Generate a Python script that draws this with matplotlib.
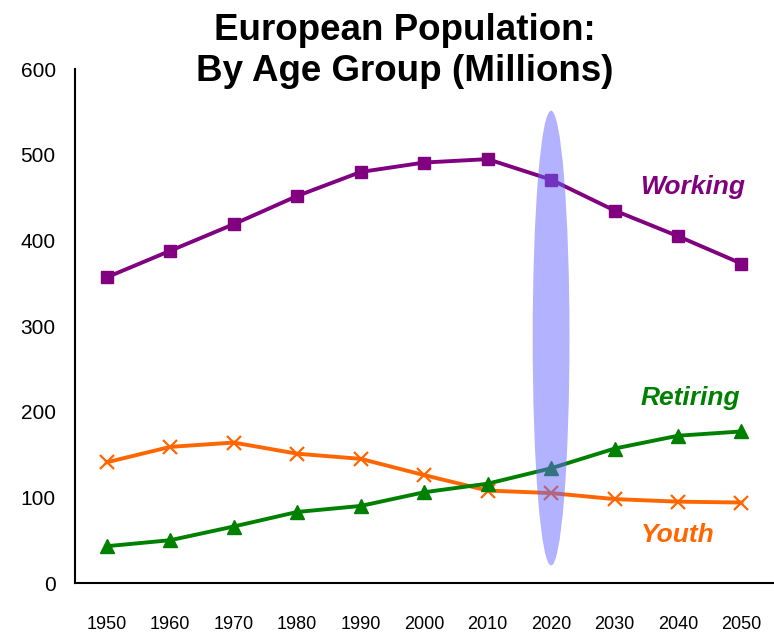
import matplotlib.pyplot as plt
from matplotlib.patches import Ellipse

plt.rcParams['font.family'] = ['Liberation Sans', 'DejaVu Sans']

years = [1950, 1960, 1970, 1980, 1990, 2000, 2010, 2020, 2030, 2040, 2050]
working = [357, 388, 419, 452, 480, 491, 495, 471, 435, 405, 373]
youth = [141, 159, 164, 151, 145, 126, 108, 105, 98, 95, 94]
retiring = [43, 50, 66, 83, 90, 106, 116, 134, 157, 172, 177]
yticks = [0, 100, 200, 300, 400, 500, 600]

fig = plt.figure(figsize=(7.74, 6.32), dpi=100)
ax = fig.add_axes([0.097, 0.0775, 0.902, 0.813])

ax.plot(years, working, color='#800080', lw=2.8, marker='s', ms=9)
ax.plot(years, youth, color='#ff6600', lw=2.8, marker='x', ms=9.5, mew=1.6)
ax.plot(years, retiring, color='#008000', lw=2.8, marker='^', ms=9.5)

# highlight around 2020
ell = Ellipse((2020, 286), width=5.8, height=531, facecolor='#6666ff', alpha=0.5, edgecolor='none', zorder=5)
ax.add_patch(ell)

ax.text(2042.3, 462, 'Working', color='#800080', fontsize=19, fontweight='bold', fontstyle='italic', ha='center', va='center')
ax.text(2042, 216, 'Retiring', color='#008000', fontsize=19, fontweight='bold', fontstyle='italic', ha='center', va='center')
ax.text(2040, 56, 'Youth', color='#ff6600', fontsize=19, fontweight='bold', fontstyle='italic', ha='center', va='center')

ax.set_xlim(1945, 2055)
ax.set_ylim(0, 600)
ax.set_xticks(years)
ax.set_yticks(yticks)
ax.tick_params(axis='x', length=0, pad=24, labelsize=13)
ax.tick_params(axis='y', length=0, pad=14, labelsize=15)
for s in ['top', 'right']:
    ax.spines[s].set_visible(False)
for s in ['left', 'bottom']:
    ax.spines[s].set_linewidth(1.5)

fig.text(0.523, 0.919, 'European Population:\nBy Age Group (Millions)', ha='center', va='center',
         fontsize=26.5, fontweight='bold', linespacing=1.22)

fig.savefig('out.png', dpi=100, facecolor='white')
